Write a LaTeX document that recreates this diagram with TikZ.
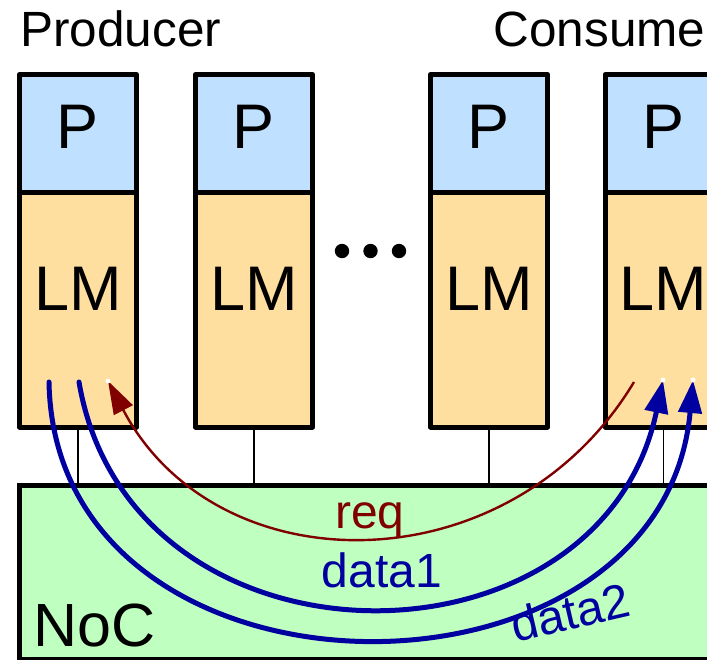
\documentclass[tikz,border=0pt]{standalone}
\usepackage{fontspec}
\setmainfont{Liberation Sans}
\usetikzlibrary{arrows.meta}
\definecolor{pfill}{RGB}{191,224,255}
\definecolor{lmfill}{RGB}{255,223,159}
\definecolor{nocfill}{RGB}{191,255,191}
\definecolor{datablue}{RGB}{0,0,160}
\definecolor{reqred}{RGB}{128,0,0}
\begin{document}
\begin{tikzpicture}[x=1pt,y=-1pt,
  unitbox/.style={draw=black, line width=5pt, line join=round, inner sep=0pt,
    outer sep=0pt, minimum width=117pt},
  pbox/.style={unitbox, fill=pfill, minimum height=117.5pt},
  lmbox/.style={unitbox, fill=lmfill, minimum height=235pt},
  nocbox/.style={draw=black, line width=5pt, fill=nocfill, inner sep=0pt,
    outer sep=0pt, minimum width=760pt, minimum height=174pt, anchor=north west},
  bigtext/.style={inner sep=0pt, anchor=base, font=\fontsize{63}{70}\selectfont},
  headtext/.style={inner sep=0pt, anchor=base west, font=\fontsize{49.5}{58}\selectfont},
  flowtext/.style={inner sep=0pt, anchor=base, font=\fontsize{48}{56}\selectfont},
  link/.style={draw=black, line width=1.8pt},
  dataflow/.style={draw=datablue, line width=5pt, line cap=round,
    -{Triangle[length=33pt,width=23pt]}},
  reqflow/.style={draw=reqred, line width=2.4pt,
    -{Triangle[length=33pt,width=21pt]}},
  tipdot/.style={circle, fill=white, inner sep=0pt, minimum size=5pt}
]
\useasboundingbox (0,0) rectangle (707,659);
\clip (0,0) rectangle (707,659);

% network on chip
\node[nocbox] (noc) at (19.5,485.5) {};
\node[inner sep=0pt, anchor=base west, font=\fontsize{61}{70}\selectfont] (noclabel) at (33,646) {NoC};

% processing units: processor on top of local memory
\foreach \i/\cx in {1/78, 2/254, 3/489, 4/663.5} {
  \node[pbox] (p\i) at (\cx,133.25) {};
  \node[lmbox] (lm\i) at (\cx,309.5) {};
  \node[bigtext] (pt\i) at (\cx,148) {P};
  \node[bigtext] (lt\i) at (\cx,310) {LM};
  \draw[link] (lm\i.south) -- (lm\i.south |- noc.north);
}

% ellipsis between the units
\foreach \k/\dx in {1/342, 2/370.5, 3/399}
  \fill[black] (\dx,251) circle (7.2pt);

% titles
\node[headtext] (prod) at (20,46) {Producer};
\node[headtext] (cons) at (493.5,46) {Consumer};

% end points of the transfers
\coordinate (d2s) at (49,382);
\coordinate (d1s) at (79,382);
\coordinate (rqe) at (108,381);
\coordinate (rqs) at (634,382);
\coordinate (d1e) at (663,380);
\coordinate (d2e) at (693,380);

% request and data transfers
\draw[reqflow] (rqs) .. controls (510,588) and (217,588) .. (rqe);
\draw[dataflow] (d1s) .. controls (130,682) and (600,682) .. (d1e);
\draw[dataflow] (d2s) .. controls (55,722) and (662,724) .. (d2e);

\node[tipdot] at (rqe) {};
\node[tipdot] at (d1e) {};
\node[tipdot] at (d2e) {};

% transfer labels
\node[flowtext, text=reqred] (reqlabel) at (370,528) {req};
\node[flowtext, text=datablue] (d1label) at (382,587) {data1};
\node[flowtext, text=datablue, rotate=13] (d2label) at (574,629) {data2};
\end{tikzpicture}
\end{document}
